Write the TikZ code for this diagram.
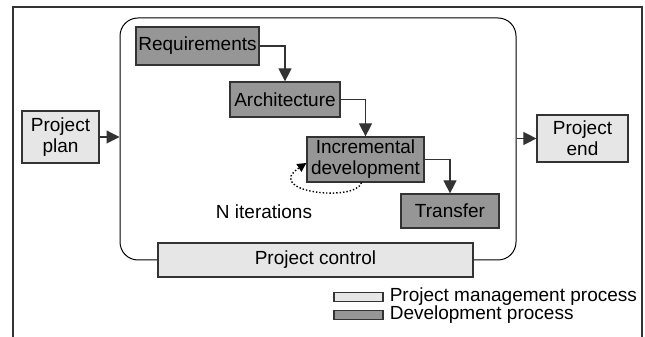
\documentclass[tikz,border=0pt]{standalone}
\usepackage{fontspec}
\setmainfont{Liberation Sans}
\usepackage{tikz}
\usetikzlibrary{arrows.meta, positioning, calc}
\definecolor{mgmtgray}{RGB}{230,230,230}
\definecolor{devgray}{RGB}{150,150,150}
\definecolor{linegray}{RGB}{51,51,51}
\tikzset{
  mgmt/.style={rectangle, draw=linegray, line width=1.2pt, fill=mgmtgray, inner sep=0pt, text centered, align=center},
  devbox/.style={rectangle, draw=linegray, line width=1.2pt, fill=devgray, inner sep=0pt, text centered, align=center},
  container/.style={rectangle, draw=black, line width=1pt, rounded corners=18pt, inner sep=0pt},
  arrow/.style={line width=1.1pt, draw=linegray, -{Triangle[length=13pt,width=13pt]}},
  loopback/.style={dotted, line width=1.4pt, -{Triangle[length=9pt,width=9pt]}},
  swatch/.style={rectangle, draw=linegray, line width=1.2pt, minimum width=49pt, minimum height=9pt, inner sep=0pt}
}

\begin{document}
\begin{tikzpicture}[x=1pt, y=1pt, font=\fontsize{19}{21}\selectfont]
\useasboundingbox (0,0) rectangle (645,337);
% frame
\draw [linegray, line width=1.2pt] (13,0) -- (13,330) -- (642,330) -- (642,0);

\node (dev) [container, minimum width=396, minimum height=242] at (318,198) {};

\node (plan) [mgmt, minimum width=77, minimum height=52] at (60.5,200) {Project\\plan};
\node (req) [devbox, minimum width=123, minimum height=38] at (197.5,291) {Requirements};
\node (arch) [devbox, minimum width=110, minimum height=35] at (285,237.5) {Architecture};
\node (inc) [devbox, minimum width=117, minimum height=45] at (365.5,177.5) {Incremental\\development};
\node (transfer) [devbox, minimum width=98, minimum height=34] at (450,126) {Transfer};
\node (pend) [mgmt, minimum width=91, minimum height=47] at (582.5,198.5) {Project\\end};
\node (control) [mgmt, minimum width=315, minimum height=34] at (315.5,77) {Project control};
\node (iter) at (264,125) {N iterations};

% legend
\node (legmgmt) [swatch, fill=mgmtgray] at (358.5,40) {};
\node (legdev) [swatch, fill=devgray] at (358.5,22) {};
\node [right=6pt of legmgmt, inner sep=0pt] {Project management process};
\node [right=6pt of legdev, inner sep=0pt] {Development process};

\draw [arrow] (plan.east) -- (plan.east -| dev.west);
\draw [arrow] (req.east) -| (arch.north);
\draw [arrow] (arch.east) -| (inc.north);
\draw [arrow] (inc.east) -| (transfer.north);
\draw [arrow] (dev.east |- pend.west) -- (pend.west);
\draw [loopback] ([xshift=-4pt]inc.south) .. controls +(-6,-20) and +(-44,-29) .. ([yshift=-3.5pt]inc.west);

\end{tikzpicture}
\end{document}
